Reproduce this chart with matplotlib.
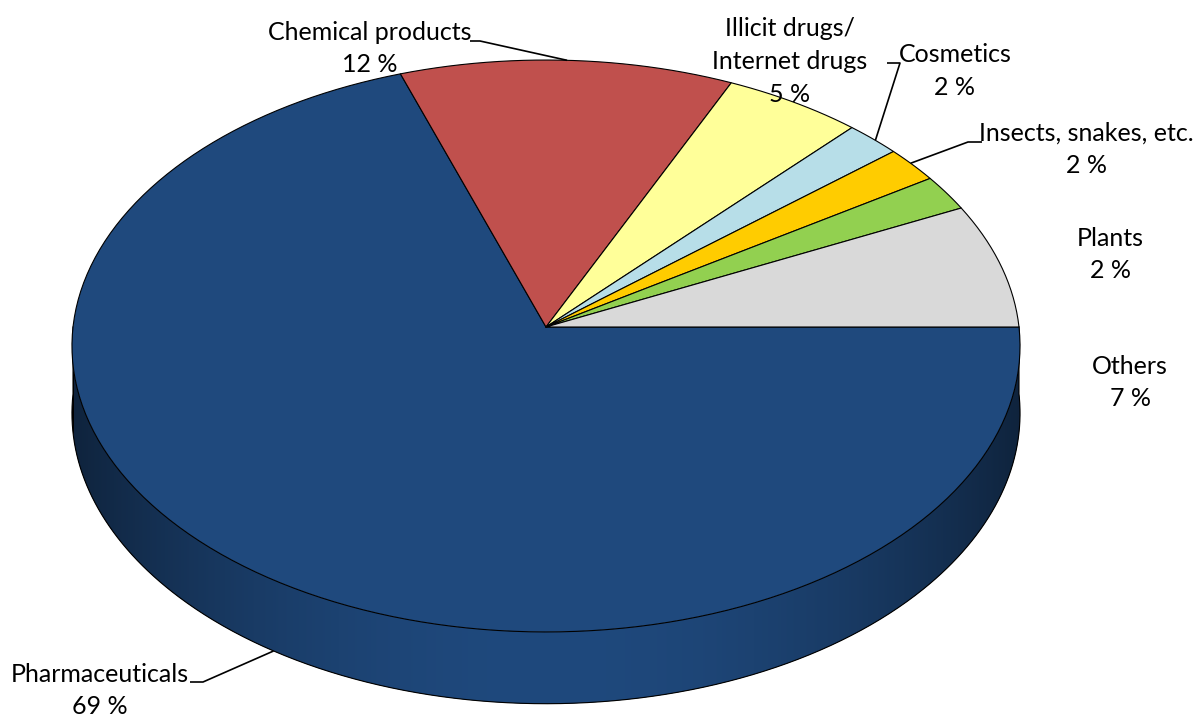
import numpy as np
import matplotlib
matplotlib.use("Agg")
import matplotlib.pyplot as plt
from matplotlib.patches import Polygon
from matplotlib import font_manager

# --- data -------------------------------------------------------------
categories = ["Pharmaceuticals", "Chemical products", "Illicit drugs/\nInternet drugs",
              "Cosmetics", "Insects, snakes, etc.", "Plants", "Others"]
shares = [69, 12, 5, 2, 2, 2, 7]
colors = ["#1F497D", "#C0504D", "#FFFF99", "#B7DEE8", "#FFCC00", "#92D050", "#D9D9D9"]

# --- layout -----------------------------------------------------------
W_PX, H_PX = 1196, 716
CX, CY = 546.0, 327.0        # projected pie centre
RX = 473.0                   # horizontal radius
RY = 284.7                   # depth radius before perspective
PERSP = 0.0664               # perspective strength (back shrinks, front grows)
THICK = 67.0                 # wall height at the left/right extremes
LINE_STEP = 32.5             # pixel distance between label lines

# label anchor (x, y of first line centre) and optional leader:
# (slice angle fraction, depth fraction, elbow x, elbow y, text-end x)
label_pos = [(100, 672), (370, 30), (790, 27), (955, 53), (1086, 131), (1110, 236), (1130, 364)]
leaders = {
    0: (0.49, 1.0, 203, 682, 190),
    1: (0.5, 0.0, 480, 41, 470),
    3: (0.55, 0.0, 900, 63, 887),
    4: (0.45, 0.0, 968, 142, 982),
}

available = {f.name for f in font_manager.fontManager.ttflist}
family = "Lato" if "Lato" in available else "DejaVu Sans"
FS = 18


def project(theta, depth=0.0):
    """Map an angle on the pie rim (radians, CCW from east) to pixels."""
    u, v = np.cos(theta), np.sin(theta)
    den = 1.0 + PERSP * v
    x = CX + RX * u / den
    y = CY - RY * v / den + depth * THICK / den
    return x, y


fig = plt.figure(figsize=(W_PX / 100, H_PX / 100), dpi=100)
ax = fig.add_axes([0, 0, 1, 1])
ax.set_xlim(0, W_PX)
ax.set_ylim(H_PX, 0)
ax.axis("off")

vals = np.asarray(shares, dtype=float)
fracs = vals / vals.sum()
# slices run clockwise starting at east
ends = 2 * np.pi - np.concatenate([[0], np.cumsum(fracs)]) * 2 * np.pi
starts_cw = ends[:-1]   # larger angle
stops_cw = ends[1:]     # smaller angle


def owner(theta):
    for j in range(len(vals)):
        if stops_cw[j] <= theta <= starts_cw[j]:
            return j
    return 0


# --- side wall (front half only) with a smooth shading gradient -------
tw = np.linspace(np.pi, 2 * np.pi, 600)
wx, _ = project(tw)
shade = []
for t in tw:
    col = np.array(matplotlib.colors.to_rgb(colors[owner(t)]))
    f = 0.48 + 0.52 * (-np.sin(t)) ** 2.2
    shade.append(np.clip(col * f, 0, 1))
shade = np.array(shade)
xs = np.linspace(wx.min() - 4, wx.max() + 4, 1200)
grad = np.stack([np.interp(xs, wx, shade[:, c]) for c in range(3)], axis=-1)[None, :, :]

top_x, top_y = project(tw)
bot_x, bot_y = project(tw, 1)
wall = Polygon(np.column_stack([np.r_[top_x, bot_x[::-1]], np.r_[top_y, bot_y[::-1]]]),
               closed=True, facecolor=shade[0], edgecolor="none")
ax.add_patch(wall)
img = ax.imshow(grad, extent=[xs[0], xs[-1], bot_y.max() + 2, top_y.min() - 2],
                aspect="auto", interpolation="bilinear", zorder=1)
img.set_clip_path(wall)
ax.set_xlim(0, W_PX)
ax.set_ylim(H_PX, 0)

# wall outline
lx0, ly0 = project(np.pi)
rx0, ry0 = project(2 * np.pi)
ax.plot(np.r_[lx0, bot_x, rx0], np.r_[ly0, bot_y, ry0], color="black", lw=0.8, zorder=2)

# --- top faces --------------------------------------------------------
for j in range(len(vals)):
    t = np.linspace(starts_cw[j], stops_cw[j], max(int(200 * fracs[j]) + 4, 6))
    px, py = project(t)
    poly = np.column_stack([np.r_[CX, px], np.r_[CY, py]])
    ax.add_patch(Polygon(poly, closed=True, facecolor=colors[j], edgecolor="black",
                         lw=0.8, joinstyle="round", zorder=3))

# --- labels -----------------------------------------------------------
for j, name in enumerate(categories):
    x, y = label_pos[j]
    lines = name.split("\n") + [f"{shares[j]} %"]
    for li, line in enumerate(lines):
        ax.text(x, y + li * LINE_STEP, line, ha="center", va="center_baseline",
                fontsize=FS, family=family, color="black", zorder=5)

for j, (afrac, depth, ex, ey, tx) in leaders.items():
    ang = starts_cw[j] + (stops_cw[j] - starts_cw[j]) * afrac
    px, py = project(ang, depth)
    ax.plot([tx, ex, px], [ey, ey, py], color="black", lw=1.2, zorder=4,
            solid_capstyle="butt")

fig.savefig("out.png", dpi=100, facecolor="white")
